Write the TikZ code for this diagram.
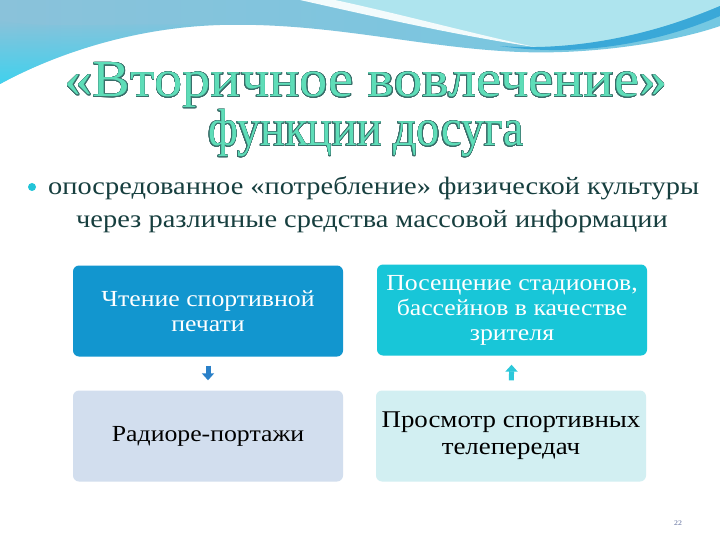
\documentclass[tikz,border=0pt]{standalone}
\usepackage{fontspec}
\setmainfont{Liberation Serif}[FakeStretch=1.12]
\newfontfamily\titlefontA{Liberation Serif}[FakeStretch=1.086]
\newfontfamily\titlefontB{Liberation Serif}[FakeStretch=0.89]
\newfontfamily\bodyfont{Liberation Serif}[FakeStretch=1.136]
\usepackage[copies]{contour}
\contourlength{0.45pt}
\contournumber{24}
\usetikzlibrary{arrows.meta,fadings}
\definecolor{waveblue}{HTML}{8AC2DA}
\definecolor{wavemid}{HTML}{74C8E2}
\definecolor{wavecyan}{HTML}{40D2EE}
\definecolor{wavelight}{HTML}{AEE4EE}
\definecolor{stripeblue}{HTML}{3AA8D8}
\definecolor{mint}{HTML}{5EDDB8}
\definecolor{mintline}{HTML}{3A6E6A}
\definecolor{bodytext}{HTML}{173F3F}
\definecolor{bulletc}{HTML}{22C4D8}
\definecolor{boxA}{HTML}{1296CF}
\definecolor{boxB}{HTML}{18C6D8}
\definecolor{boxC}{HTML}{D2DEEE}
\definecolor{boxD}{HTML}{D2EFF2}
\definecolor{arrA}{HTML}{2A80C8}
\definecolor{arrB}{HTML}{2CC8DA}
\definecolor{pagenum}{HTML}{5A6A9A}
\tikzset{
  box/.style={rounded corners=6pt, minimum width=270pt, minimum height=91pt,
    align=center, inner sep=2pt},
  boxtext/.style={font=\fontsize{23}{25}\selectfont},
  titletext/.style={anchor=base, inner sep=0},
  bodyline/.style={anchor=base west, inner sep=0, text=bodytext, font=\bodyfont\fontsize{25}{30}\selectfont},
  flowarrow/.style={line width=5pt, -{Triangle[width=12pt,length=7pt]}}
}
\begin{document}
\begin{tikzpicture}[x=1pt,y=-1pt]
\useasboundingbox (0,0) rectangle (720,540);
\fill[white] (0,0) rectangle (720,540);
% top wave
\shade[left color=waveblue, right color=wavemid]
  (0,0) -- (0,84) .. controls (40,62) and (120,28) .. (220,25)
  .. controls (330,22) and (420,48) .. (520,52)
  .. controls (600,55) and (680,40) .. (720,26) -- (720,0) -- cycle;
\fill[wavecyan, path fading=north]
  (0,20) -- (0,84) .. controls (40,62) and (120,28) .. (220,25)
  .. controls (120,22) and (40,30) .. (0,20) -- cycle;
\fill[wavelight]
  (320,0) .. controls (390,18) and (465,36) .. (535,47)
  .. controls (600,50) and (660,30) .. (720,6) -- (720,0) -- cycle;
\fill[white!85!wavelight]
  (300,0) .. controls (380,18) and (460,36) .. (535,47)
  .. controls (470,33) and (400,14) .. (335,0) -- cycle;
\fill[stripeblue]
  (500,46) .. controls (580,52) and (660,32) .. (720,6) -- (720,16)
  .. controls (660,42) and (580,58) .. (500,46) -- cycle;
% title
\node[titletext, font=\titlefontA\fontsize{52}{52}\selectfont] (t1) at (366,97)
  {\contour{mintline}{\textcolor{mint}{«Вторичное вовлечение»}}};
\node[titletext, font=\titlefontB\fontsize{52}{52}\selectfont] (t2) at (366,146)
  {\contour{mintline}{\textcolor{mint}{функции досуга}}};
% bullet text
\fill[bulletc] (32,187) circle (4);
\node[bodyline] (l1) at (48,195)
  {опосредованное «потребление» физической культуры};
\node[bodyline] (l2) at (76,227)
  {через различные средства массовой информации};
% boxes
\node[box, fill=boxA, text=white, boxtext] (b1) at (208,311) {Чтение спортивной\\печати};
\node[box, fill=boxB, text=white, boxtext] (b2) at (512,310) {Посещение стадионов,\\бассейнов в качестве\\зрителя};
\node[box, fill=boxC, text=black, boxtext] (b3) at (208,436) {Радиоре-портажи};
\node[box, fill=boxD, text=black, boxtext, font=\fontsize{24}{27}\selectfont] (b4) at (511,436) {Просмотр спортивных\\телепередач};
% arrows
\draw[flowarrow, arrA, shorten <=9pt, shorten >=10pt] (b1) -- (b3);
\draw[flowarrow, arrB, shorten <=10pt, shorten >=9pt] (b4) -- (b2);
% page number
\node[text=pagenum, font=\fontsize{7}{8}\selectfont, inner sep=0] (pg) at (678,523) {22};
\end{tikzpicture}
\end{document}
